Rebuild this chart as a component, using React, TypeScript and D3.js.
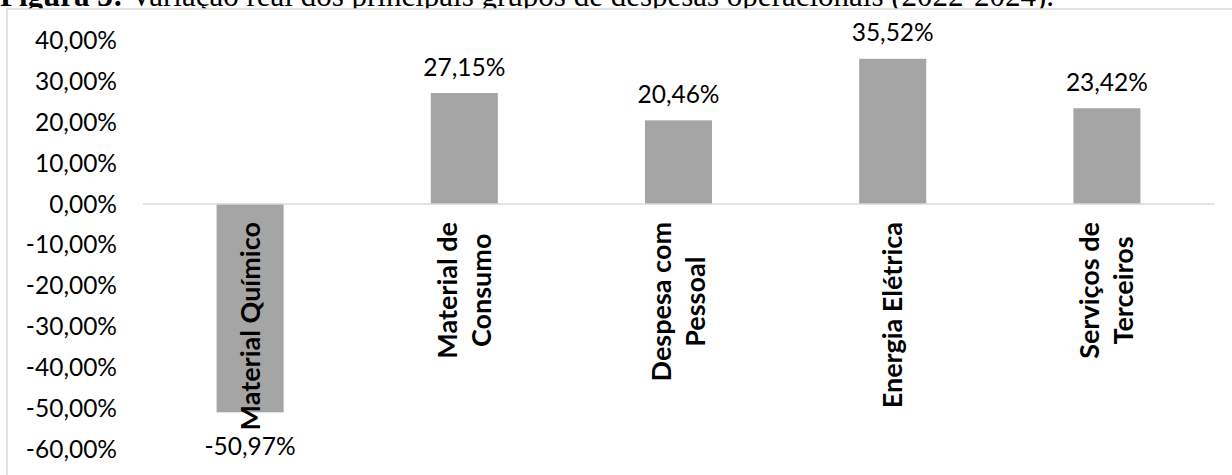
import * as d3 from "d3";
import { useEffect, useRef } from "react";

// chart data
const categoryLines = [
  ["Material Químico"],
  ["Material de", "Consumo"],
  ["Despesa com", "Pessoal"],
  ["Energia Elétrica"],
  ["Serviços de", "Terceiros"],
];
const categories = categoryLines.map((l) => l.join(" "));
const values = [-50.97, 27.15, 20.46, 35.52, 23.42];
const yTicks = [40, 30, 20, 10, 0, -10, -20, -30, -40, -50, -60];

const titleBold = "Figura 3:";
const titleRest = " Variação real dos principais grupos de despesas operacionais (2022-2024).";

const W = 1232;
const H = 475;

const App = () => {
  const svgRef = useRef<SVGSVGElement>(null);

  useEffect(() => {
    if (!svgRef.current) return;
    const svg = d3.select(svgRef.current);
    svg.selectAll("*").remove();

    const locale = d3.formatLocale({
      decimal: ",",
      thousands: ".",
      grouping: [3],
      currency: ["R$", ""],
      minus: "-",
    });
    const fmt = locale.format(".2f");
    const pct = (v: number) => `${fmt(v)}%`;

    const font = "Lato, 'Noto Sans', sans-serif";
    const fontSize = 24.5;
    const boldSize = 27;

    // caption text, partly hidden behind the chart box
    const title = svg
      .append("text")
      .attr("x", 0)
      .attr("y", 6)
      .attr("font-family", "'Liberation Serif', 'Times New Roman', serif")
      .attr("font-size", 31)
      .attr("fill", "#000");
    title.append("tspan").attr("font-weight", "bold").text(titleBold);
    title.append("tspan").text(titleRest);

    // chart area
    svg
      .append("rect")
      .attr("x", 7)
      .attr("y", 9)
      .attr("width", W + 20)
      .attr("height", H + 20)
      .attr("fill", "#fff")
      .attr("stroke", "#d9d9d9")
      .attr("stroke-width", 1.5);

    const x = d3.scaleBand().domain(categories).range([143, 1214]).padding(0);
    const y = d3.scaleLinear().domain([-60, 40]).range([449.2, 40.5]);
    const barW = x.bandwidth() * 0.313;

    // y tick labels
    svg
      .append("g")
      .selectAll("text")
      .data(yTicks)
      .join("text")
      .attr("x", 117)
      .attr("y", (d) => y(d))
      .attr("dy", "0.35em")
      .attr("text-anchor", "end")
      .attr("font-family", font)
      .attr("font-size", fontSize)
      .attr("fill", "#000")
      .text((d) => pct(d));

    // bars
    svg
      .append("g")
      .selectAll("rect")
      .data(values)
      .join("rect")
      .attr("x", (_, i) => x(categories[i])! + x.bandwidth() / 2 - barW / 2)
      .attr("y", (d) => y(Math.max(0, d)))
      .attr("width", barW)
      .attr("height", (d) => Math.abs(y(d) - y(0)))
      .attr("fill", "#a5a5a5");

    // zero line
    svg
      .append("line")
      .attr("x1", x.range()[0])
      .attr("x2", x.range()[1])
      .attr("y1", y(0))
      .attr("y2", y(0))
      .attr("stroke", "#d9d9d9")
      .attr("stroke-width", 1.5);

    // data labels
    svg
      .append("g")
      .selectAll("text")
      .data(values)
      .join("text")
      .attr("x", (_, i) => x(categories[i])! + x.bandwidth() / 2)
      .attr("y", (d) => (d >= 0 ? y(d) - 26 : y(d) + 34))
      .attr("dy", "0.35em")
      .attr("text-anchor", "middle")
      .attr("font-family", font)
      .attr("font-size", fontSize)
      .attr("fill", "#000")
      .text((d) => pct(d));

    // rotated category labels, longest line ends at the same height
    const labelTop = 222;
    const lineGap = 34;
    categoryLines.forEach((lines, i) => {
      const cx = x(categories[i])! + x.bandwidth() / 2;
      const g = svg
        .append("g")
        .attr("transform", `translate(${cx},${labelTop}) rotate(-90)`);
      const texts = lines.map((line, j) =>
        g
          .append("text")
          .attr("y", (j - (lines.length - 1) / 2) * lineGap)
          .attr("dy", "0.35em")
          .attr("text-anchor", "middle")
          .attr("font-family", font)
          .attr("font-weight", "bold")
          .attr("font-size", boldSize)
          .attr("fill", "#000")
          .text(line)
      );
      const maxLen = d3.max(texts, (t) => (t.node() as SVGTextElement).getComputedTextLength()) || 0;
      texts.forEach((t) => t.attr("x", -maxLen / 2));
    });
  }, []);

  return (
    <div style={{ position: "absolute", left: 0, top: 0, width: W, height: H }}>
      <svg ref={svgRef} width={W} height={H} style={{ display: "block" }} />
    </div>
  );
};

export default App;
